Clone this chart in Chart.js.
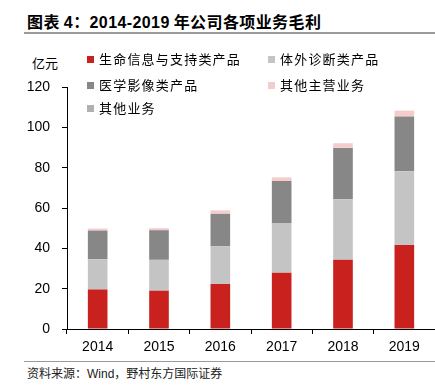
<!DOCTYPE html>
<html>
<head>
<meta charset="utf-8">
<script src="https://cdn.jsdelivr.net/npm/chart.js@4.4.0/dist/chart.umd.min.js"></script>
<style>
  body { margin:0; background:#fff; width:435px; height:386px; overflow:hidden; position:relative;
         font-family:"Noto Sans CJK SC","Liberation Sans",sans-serif; }
  #title { position:absolute; left:27px; top:9px; font-size:16px; font-weight:bold; color:#000; white-space:nowrap; letter-spacing:0.4px; }
  #title .n { font-family:"Liberation Sans",Arial,sans-serif; }
  .hline { position:absolute; left:24px; width:411px; background:#9a9a9a; }
  #unit { position:absolute; left:32px; top:53px; font-size:13px; color:#000; }
  #box { position:absolute; left:0; top:40px; width:435px; height:320px; }
  .lg { position:absolute; font-size:13px; letter-spacing:1.2px; color:#000; white-space:nowrap; line-height:16px; }
  .lg i { display:inline-block; width:7px; height:7px; margin-right:5px; vertical-align:1px; }
  #src { position:absolute; left:27px; top:364px; font-size:12px; color:#222; white-space:nowrap; }
</style>
</head>
<body>
<div id="title">图表 <span class="n">4</span>：<span class="n">2014-2019</span> 年公司各项业务毛利</div>
<div class="hline" style="top:32px;height:2px"></div>
<div id="unit">亿元</div>
<div id="box"><canvas id="c"></canvas></div>
<div id="legend"></div>
<div class="hline" style="top:361px;height:1px"></div>
<div id="src">资料来源：<span style="font-family:'Liberation Sans'">Wind</span>，野村东方国际证券</div>
<script>
// 年份
let years=["2014","2015","2016","2017","2018","2019"];
// 各项业务毛利（亿元）
let lifeInfo=[19.6,19.0,22.3,27.9,34.3,41.7];
let ivd=[15.0,15.3,18.8,24.7,30.1,36.5];
let imaging=[14.2,14.7,16.0,20.8,25.4,27.2];
let otherMain=[1.0,1.0,1.7,1.8,2.3,2.9];
let otherBiz=[0,0,0,0,0,0];
let yTicks=[0,20,40,60,80,100,120];

let names=["生命信息与支持类产品","体外诊断类产品","医学影像类产品","其他主营业务","其他业务"];
let colors=["#c9211e","#c4c4c4","#878787","#f5cccc","#b0b0b0"];
let series=[lifeInfo,ivd,imaging,otherMain,otherBiz];

// legend, two columns
let legendPos=[[87,51],[268,51],[87,77],[268,77],[87,100]];
let lg=document.getElementById("legend");
names.forEach(function(n,i){
  let d=document.createElement("div");
  d.className="lg";
  d.style.left=legendPos[i][0]+"px";
  d.style.top=legendPos[i][1]+"px";
  d.innerHTML='<i style="background:'+colors[i]+'"></i>'+n;
  lg.appendChild(d);
});

let datasets=series.map(function(s,i){
  return {label:names[i],data:s,backgroundColor:colors[i],borderWidth:0,
          barPercentage:0.32,categoryPercentage:1};
});

new Chart("c",{
  type:"bar",
  data:{labels:years,datasets:datasets},
  options:{
    responsive:true,maintainAspectRatio:false,animation:false,
    layout:{padding:{top:47,right:0,left:0,bottom:0}},
    plugins:{legend:{display:false},tooltip:{enabled:false}},
    scales:{
      x:{stacked:true,
         grid:{offset:true,drawOnChartArea:false,drawTicks:true,tickLength:5,color:"#000"},
         border:{display:true,color:"#000",width:1},
         ticks:{color:"#000",padding:5,font:{family:"Liberation Sans",size:14}},
         afterFit:function(s){s.height=31;}},
      y:{stacked:true,min:0,max:120,
         afterBuildTicks:function(s){s.ticks=yTicks.map(function(v){return {value:v};});},
         grid:{drawOnChartArea:false,drawTicks:true,tickLength:5,color:"#000"},
         border:{display:true,color:"#000",width:1},
         ticks:{color:"#000",padding:12,font:{family:"Liberation Sans",size:14}},
         afterFit:function(s){s.width=67;}}
    }
  }
});
</script>
</body>
</html>
